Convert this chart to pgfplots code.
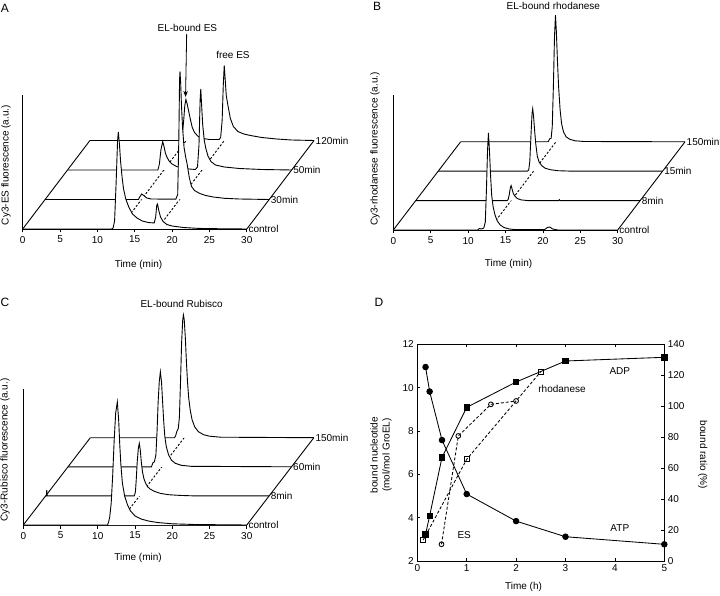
\documentclass[border=0pt]{standalone}
\usepackage{fontspec}
\setmainfont{Liberation Sans}
\usepackage{pgfplots}
\usepackage{pgfplotstable}
\pgfplotsset{compat=1.18}
\usetikzlibrary{arrows.meta}

\newcommand\fs{\fontsize{10}{12}\selectfont}

% traces: t = time (min), s = height above the trace's own baseline
% panel A (ES)
\pgfplotstableread{
t s
0 0
11.9 0
12.1 1
12.3 8
12.5 45
12.7 88
12.8 97
12.95 85
13.1 68
13.3 52
13.5 40
13.8 30
14.2 22
14.7 15
15.3 11
16.0 8
16.8 6.5
17.6 6
17.8 12
17.95 24
18.05 25
18.2 19
18.45 12
18.8 7.5
19.3 4.5
20.0 3
21.5 1.5
23.5 0.6
26 0.3
30 0
}\Actl
\pgfplotstableread{
t s
0 0
12.5 0
12.7 3
12.93 5.5
13.2 4
13.6 1.5
14.2 0.5
17.5 0.3
17.75 5
17.9 60
18.0 120
18.06 128
18.15 116
18.25 95
18.4 72
18.6 52
18.8 43
19.0 36
19.3 22
19.6 13
20.0 9
20.7 6
21.5 4
22.5 2.5
24 1.2
26 0.5
30 0
}\Aone
\pgfplotstableread{
t s
0 0
12.1 0
12.3 6
12.5 20
12.74 28.5
12.9 24
13.1 17
13.3 13
13.6 9
14.0 6
14.6 3.5
15.5 1.5
17.1 0.5
17.4 3
17.6 25
17.75 70
17.84 81
17.95 65
18.1 45
18.3 30
18.5 22
18.8 14
19.2 8.5
19.8 5
21 3
23 1.5
26 0.5
30 0
}\Atwo
\pgfplotstableread{
t s
0 0
12.2 0
12.4 8
12.55 20
12.7 35
12.85 41
13.0 37
13.2 30
13.45 21
13.7 13
14.0 8
14.5 4
15.2 2
16.0 1
17.3 1
17.5 3
17.7 20
17.85 55
17.98 75
18.1 62
18.25 45
18.5 34
18.8 22
19.2 14
19.8 9
20.6 6.5
21.5 5
23 3
25 1.5
27 0.5
30 0
}\Athree

% panel B (rhodanese)
\pgfplotstableread{
t s
0 0
11.3 0
11.5 1.5
11.8 1
12.1 2
12.3 8
12.45 40
12.6 80
12.72 97
12.85 80
13.0 55
13.15 35
13.35 23
13.6 15
13.9 9
14.3 5
14.8 2.5
15.5 1
16.5 0.3
20.2 0.3
20.6 2.5
20.9 3
21.3 1
22 0
30 0
}\Bctl
\pgfplotstableread{
t s
0 0
12.2 0
12.35 1
12.5 6
12.65 13
12.75 15
12.9 11
13.05 7
13.3 4
13.6 2
14.1 0.7
15 0
19.1 0
19.2 1
19.3 0
30 0
}\Bone
\pgfplotstableread{
t s
0 0
11.9 0
12.1 1
12.25 10
12.4 35
12.55 58
12.64 62.5
12.75 55
12.9 40
13.05 27
13.25 15
13.5 9
13.85 5.5
14.3 3
15 1.5
16 0.5
18 0
30 0
}\Btwo
\pgfplotstableread{
t s
0 0
11.7 0
11.9 3
12.1 3.5
12.25 15
12.4 55
12.55 105
12.68 126.7
12.8 110
12.95 80
13.1 55
13.3 32
13.5 18
13.75 10
14.1 5
14.6 2.5
15.3 1
16.5 0.3
30 0
}\Bthree

% panel C (Rubisco)
\pgfplotstableread{
t s
0 0
11.3 0
11.45 3
11.6 8
11.8 22
12.0 50
12.2 85
12.4 112
12.62 123
12.8 105
12.95 80
13.1 60
13.3 42
13.6 29
14.0 20
14.4 14
15.0 9
15.8 6
16.8 4
18 2.5
20 1.2
23 0.5
30 0
}\Cctl
\pgfplotstableread{
t s
0 0
0.1 0
0.15 6
0.2 0
11.9 0
12.05 4
12.15 15
12.3 35
12.45 48
12.57 52.5
12.7 46
12.85 33
13.0 24
13.2 17
13.4 13
13.7 9
14.0 7
14.6 4.5
15.4 2.5
16.5 1.2
18 0.5
20 0
30 0
}\Cone
\pgfplotstableread{
t s
0 0
11.2 0
11.4 4
11.6 5
11.8 12
11.95 35
12.1 65
12.25 85
12.4 95
12.55 85
12.7 65
12.85 45
13.0 30
13.2 20
13.5 12
13.9 6.5
14.4 3.5
15.2 1.5
16.5 0.5
30 0
}\Ctwo
\pgfplotstableread{
t s
0 0
11.3 0
11.45 2
11.6 6
11.8 9
11.95 20
12.1 55
12.25 95
12.4 118
12.5 122.7
12.6 118
12.75 100
12.9 75
13.05 55
13.2 40
13.4 28
13.65 18
14.0 11
14.5 6
15.2 3
16 1.5
17.5 0.5
30 0
}\Cthree

\pgfplotsset{
  /pgf/number format/assume math mode=true,
  chrom/.style={anchor=south west, xmin=0, xmax=30, ymin=0, y=1pt, clip=false,
    axis x line*=bottom, axis y line*=left, ytick=\empty, xtick={0,5,...,30},
    tick align=outside, major tick length=3.5pt,
    axis line style={line width=0.9pt, black}, tick style={line width=0.7pt, black},
    tick label style={font=\fs}},
  trace/.style={black, line width=0.9pt, fill=white},
  floor/.style={black, line width=0.9pt, dash pattern=on 2.2pt off 1.8pt},
  edge/.style={black, line width=0.9pt},
}
\tikzset{lvl/.style={anchor=west, inner sep=1.5pt, font=\fs}}

\begin{document}
\begin{tikzpicture}
\useasboundingbox (0,0) rectangle (720pt,595pt);
\node[font=\fontsize{12}{14}\selectfont] at (5pt,587pt) {A};
\node[font=\fontsize{12}{14}\selectfont] at (377pt,589pt) {B};
\node[font=\fontsize{12}{14}\selectfont] at (5pt,293pt) {C};
\node[font=\fontsize{12}{14}\selectfont] at (379pt,293pt) {D};

% ---------- A ----------
\begin{axis}[chrom, at={(22.7pt,366pt)}, x=7.47pt, ymax=134]
\addplot[edge] coordinates {(0,0) (9,88.5)};
\addplot[edge] coordinates {(30,0) (39,88.5)};
\addplot[floor] coordinates {(12.9,0) (21.9,88.5)};
\addplot[floor] coordinates {(18,0) (27,88.5)};
\addplot[trace] table[x expr=\thisrow{t}+9, y expr=\thisrow{s}+88.5] {\Athree};
\addplot[trace] table[x expr=\thisrow{t}+6, y expr=\thisrow{s}+59] {\Atwo};
\addplot[trace] table[x expr=\thisrow{t}+3, y expr=\thisrow{s}+29.5] {\Aone};
\addplot[trace] table[x=t, y=s] {\Actl};
\node[lvl] at (axis cs:30,0) {control};
\node[lvl] at (axis cs:33,29.5) {30min};
\node[lvl] at (axis cs:36,59) {50min};
\node[lvl] at (axis cs:39,88.5) {120min};
\node[font=\fs, anchor=south] at (axis cs:22.05,194) {EL-bound ES};
\draw[-{Stealth[length=6pt,width=4.5pt]}, line width=0.8pt] (axis cs:21.95,195) -- (axis cs:21.8,132);
\node[font=\fs] at (axis cs:28.15,174) {free ES};
\node[font=\fs] at (axis cs:15.5,-36) {Time (min)};
\node[font=\fs, rotate=90] at (axis cs:-2.24,64) {Cy3-ES fluorescence (a.u.)};
\end{axis}

% ---------- B ----------
\begin{axis}[chrom, at={(393.3pt,365pt)}, x=7.48pt, ymax=135]
\addplot[edge] coordinates {(0,0) (9,88.2)};
\addplot[edge] coordinates {(30,0) (39,88.2)};
\addplot[floor] coordinates {(12.75,0) (21.75,88.2)};
\addplot[trace] table[x expr=\thisrow{t}+9, y expr=\thisrow{s}+88.2] {\Bthree};
\addplot[trace] table[x expr=\thisrow{t}+6, y expr=\thisrow{s}+58.8] {\Btwo};
\addplot[trace] table[x expr=\thisrow{t}+3, y expr=\thisrow{s}+29.4] {\Bone};
\addplot[trace] table[x=t, y=s] {\Bctl};
\node[lvl] at (axis cs:30,0) {control};
\node[lvl] at (axis cs:33,29.4) {8min};
\node[lvl] at (axis cs:36,58.8) {15min};
\node[lvl] at (axis cs:39,88.2) {150min};
\node[font=\fs] at (axis cs:21.4,224) {EL-bound rhodanese};
\node[font=\fs] at (axis cs:15.4,-34.3) {Time (min)};
\node[font=\fs, rotate=90] at (axis cs:-2.45,81) {Cy3-rhodanese fluorescence (a.u.)};
\end{axis}

% ---------- C ----------
\begin{axis}[chrom, at={(23.3pt,70pt)}, x=7.45pt, ymax=136]
\addplot[edge] coordinates {(0,0) (9,87.3)};
\addplot[edge] coordinates {(30,0) (39,87.3)};
\addplot[floor] coordinates {(12.6,0) (21.6,87.3)};
\addplot[trace] table[x expr=\thisrow{t}+9, y expr=\thisrow{s}+87.3] {\Cthree};
\addplot[trace] table[x expr=\thisrow{t}+6, y expr=\thisrow{s}+58.2] {\Ctwo};
\addplot[trace] table[x expr=\thisrow{t}+3, y expr=\thisrow{s}+29.1] {\Cone};
\addplot[trace] table[x=t, y=s] {\Cctl};
\node[lvl] at (axis cs:30,0) {control};
\node[lvl] at (axis cs:33,29.1) {8min};
\node[lvl] at (axis cs:36,58.2) {60min};
\node[lvl] at (axis cs:39,87.3) {150min};
\node[font=\fs] at (axis cs:21.26,221) {EL-bound Rubisco};
\node[font=\fs] at (axis cs:15.4,-32.7) {Time (min)};
\node[font=\fs, rotate=90] at (axis cs:-2.46,75) {Cy3-Rubisco fluorescence (a.u.)};
\end{axis}

% ---------- D ----------
\begin{axis}[at={(417.3pt,34pt)}, anchor=south west, scale only axis,
  width=247pt, height=216.7pt, xmin=0, xmax=5, ymin=2, ymax=12,
  xtick={0,1,...,5}, ytick={2,4,...,12}, xtick pos=both, ytick pos=left,
  tick align=inside, major tick length=3pt, clip=false,
  axis line style={line width=0.8pt, black}, tick style={line width=0.7pt, black},
  tick label style={font=\fs}]
\addplot[black, line width=0.85pt, mark=*, mark size=2.8pt] coordinates {
(0.167,10.95) (0.25,9.82) (0.5,7.58) (1,5.09) (2,3.84) (3,3.12) (5,2.77)};
\addplot[black, line width=0.85pt, mark=square*, mark size=2.7pt] coordinates {
(0.167,3.23) (0.25,4.09) (0.5,6.78) (1,9.09) (2,10.26) (3,11.23) (5,11.4)};
\node[font=\fs] at (axis cs:4.1,10.77) {ADP};
\node[font=\fs] at (axis cs:4.1,3.52) {ATP};
\node[font=\fs] at (axis cs:2.93,9.94) {rhodanese};
\node[font=\fs] at (axis cs:0.95,3.2) {ES};
\node[font=\fs] at (axis cs:2.15,0.8) {Time (h)};
\node[font=\fs, rotate=90, align=center] at (axis cs:-0.735,6.89) {bound nucleotide\\(mol/mol GroEL)};
\node[font=\fs, rotate=-90] at (axis cs:5.78,6.89) {bound ratio (\%)};
\end{axis}
\begin{axis}[at={(417.3pt,34pt)}, anchor=south west, scale only axis,
  width=247pt, height=216.7pt, xmin=0, xmax=5, ymin=0, ymax=140,
  hide x axis, axis y line*=right, ytick={0,20,...,140},
  tick align=inside, major tick length=3pt,
  axis line style={line width=0.8pt, black}, tick style={line width=0.7pt, black},
  tick label style={font=\fs}]
\addplot[black, line width=0.85pt, dash pattern=on 3pt off 2pt, mark=square, mark size=2.6pt,
  mark options={solid, fill=white}] coordinates {(0.12,13.6) (1.0,65.7) (2.5,122.3)};
\addplot[black, line width=0.85pt, dash pattern=on 3pt off 2pt, mark=o, mark size=2.4pt,
  mark options={solid, fill=white}] coordinates {(0.49,10.8) (0.83,80.8) (1.49,101.2) (2.0,103.4)};
\end{axis}
\end{tikzpicture}
\end{document}
